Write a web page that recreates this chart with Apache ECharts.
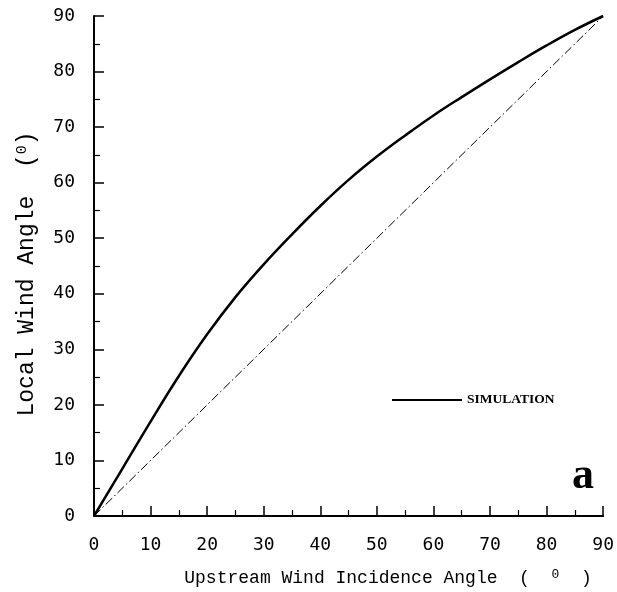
<!DOCTYPE html>
<html>
<head>
<meta charset="utf-8">
<script src="https://cdn.jsdelivr.net/npm/echarts@6/dist/echarts.min.js"></script>
<style>
  html, body { margin: 0; padding: 0; background: #ffffff; }
  #chart { width: 617px; height: 592px; }
</style>
</head>
<body>
<div id="chart"></div>
<script>
// Upstream wind incidence angle (deg) and simulated local wind angle (deg)
const incidence = [0, 5, 10, 15, 20, 25, 30, 35, 40, 45, 50, 55, 60, 65, 70, 75, 80, 85, 90];
const localAngle = [0, 8.5, 17.0, 25.2, 32.7, 39.4, 45.3, 50.7, 55.8, 60.5, 64.7, 68.5, 72.1, 75.4, 78.6, 81.7, 84.7, 87.5, 90];

// 1:1 reference line (local angle = upstream angle)
const refX = [0, 90];
const refY = [0, 90];

const seriesName = 'SIMULATION';
const panelLabel = 'a';
const xTitle = 'Upstream Wind Incidence Angle  (  {sup|0}  )';
const yTitle = 'Local Wind Angle  ({sup|0})';

const chart = echarts.init(document.getElementById('chart'), null, { renderer: 'canvas' });

const tickFont = { fontFamily: 'DejaVu Sans Mono', fontSize: 18, color: '#000' };
const axisCommon = {
  type: 'value', min: 0, max: 90, interval: 10,
  axisLine: { show: true, lineStyle: { color: '#000', width: 2 } },
  axisTick: { show: true, inside: true, length: 10, lineStyle: { color: '#000', width: 1.5 } },
  minorTick: { show: true, splitNumber: 2, length: 6, lineStyle: { color: '#000', width: 1.2 } },
  splitLine: { show: false },
  minorSplitLine: { show: false }
};

chart.setOption({
  animation: false,
  backgroundColor: '#ffffff',
  grid: { left: 94, right: 12, top: 16, bottom: 76, containLabel: false },
  xAxis: Object.assign({}, axisCommon, {
    axisLabel: Object.assign({ margin: 20 }, tickFont)
  }),
  yAxis: Object.assign({}, axisCommon, {
    axisLabel: Object.assign({ margin: 19 }, tickFont)
  }),
  legend: {
    data: [seriesName],
    left: 392, top: 393, padding: 0,
    itemWidth: 70, itemHeight: 14, itemGap: 6,
    icon: 'path://M0,6 L70,6 L70,8 L0,8 Z',
    itemStyle: { color: '#000' },
    textStyle: { fontFamily: 'Liberation Serif', fontWeight: 'bold', fontSize: 13.5, color: '#000' },
    selectedMode: false
  },
  graphic: [
    {
      type: 'text', x: 388, y: 578,
      style: {
        text: xTitle, align: 'center', verticalAlign: 'middle',
        font: '18px "Liberation Mono"', fill: '#000',
        rich: { sup: { fontSize: 13, fontFamily: 'Liberation Mono', verticalAlign: 'top', padding: [0, 0, 7, 0] } }
      }
    },
    {
      type: 'text', x: 27, y: 274, rotation: Math.PI / 2,
      style: {
        text: yTitle, align: 'center', verticalAlign: 'middle',
        font: '23px "Liberation Mono"', fill: '#000',
        rich: { sup: { fontSize: 15, fontFamily: 'Liberation Mono', verticalAlign: 'top', padding: [0, 0, 9, 0] } }
      }
    },
    {
      type: 'text', x: 583, y: 477,
      style: {
        text: panelLabel, align: 'center', verticalAlign: 'middle',
        font: 'bold 44px "Liberation Serif"', fill: '#000'
      }
    }
  ],
  series: [
    {
      name: seriesName, type: 'line',
      data: incidence.map((x, i) => [x, localAngle[i]]),
      smooth: 0.4, symbol: 'none',
      lineStyle: { color: '#000', width: 2.5 },
      itemStyle: { color: '#000' }
    },
    {
      name: 'reference', type: 'line',
      data: refX.map((x, i) => [x, refY[i]]),
      symbol: 'none',
      lineStyle: { color: '#000', width: 1, type: [9, 3, 1.5, 3] }
    }
  ]
});
</script>
</body>
</html>
